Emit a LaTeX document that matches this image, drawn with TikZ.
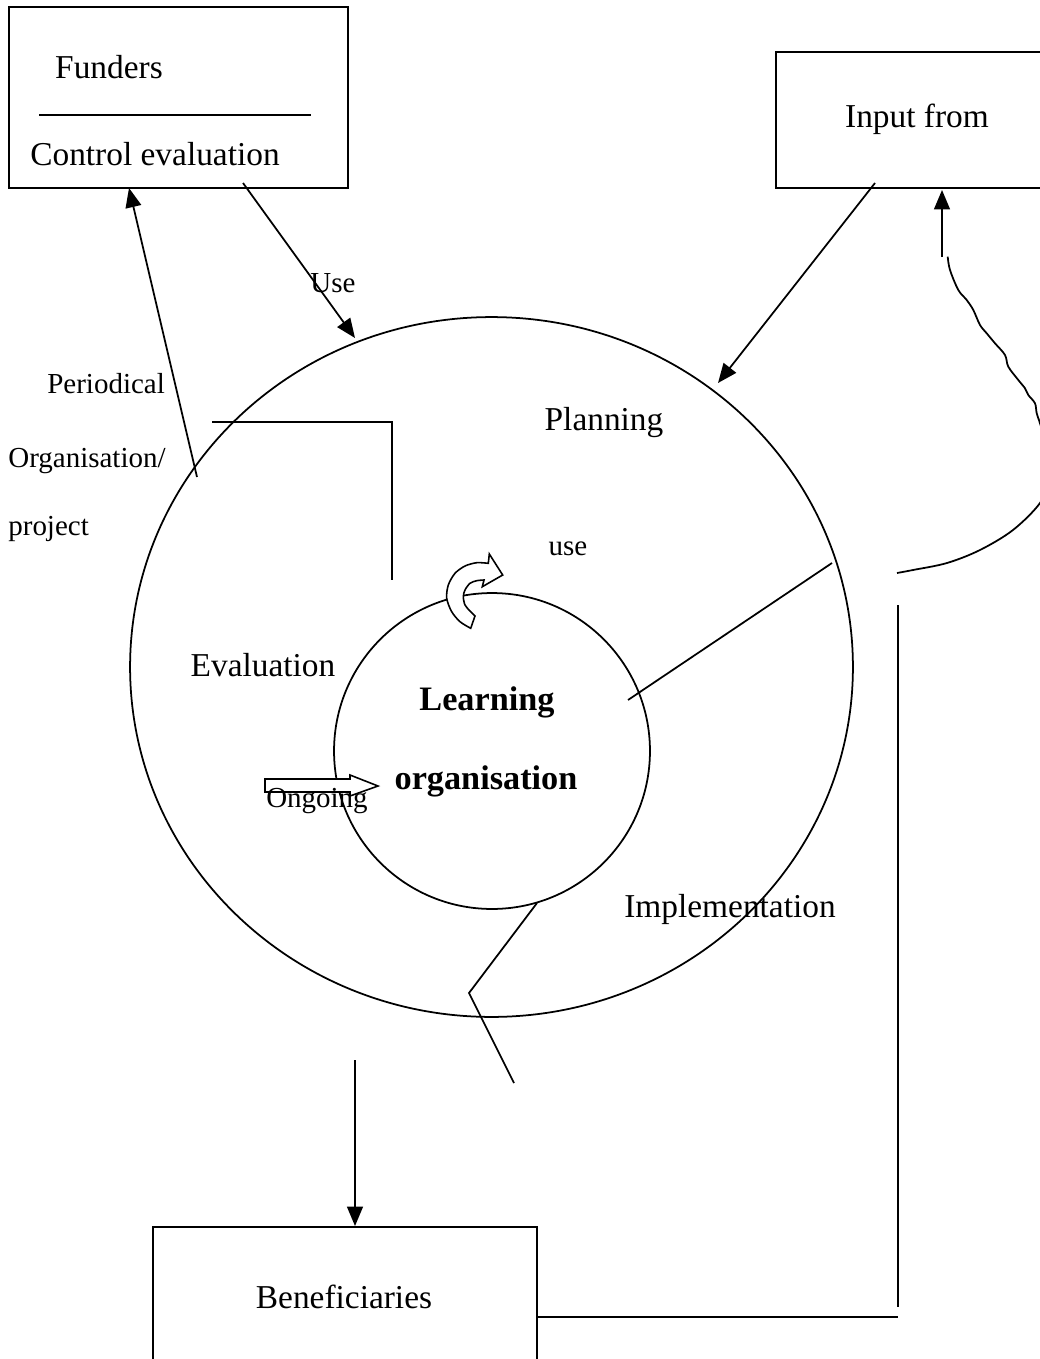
\documentclass[tikz,border=0pt]{standalone}
\usepackage{fontspec}
\setmainfont{Liberation Serif}
\usetikzlibrary{arrows.meta, shapes.geometric, positioning, fit, calc}

\begin{document}
\begin{tikzpicture}[x=0.02cm, y=-0.02cm,
	ln/.style={line width=1pt},
	fl/.style={ln, -{Triangle[length=11pt, width=9pt]}},
	bx/.style={draw, line width=1pt, inner sep=0pt},
	lab/.style={font=\fontsize{19}{22}\selectfont, anchor=base, inner sep=0pt},
	sml/.style={font=\fontsize{16.5}{20}\selectfont, anchor=base, inner sep=0pt},
	bld/.style={font=\fontsize{19.5}{23}\selectfont\bfseries, anchor=base, inner sep=0pt}]

	\useasboundingbox (0,0) rectangle (1040,1359);
	\clip (0,0) rectangle (1040,1359);

	% ---------- boxes ----------
	\node[bx, fit={(9,7) (348,188)}] (fund) {};
	\node[bx, fit={(776,52) (1070,188)}] (inpbox) {};
	\node[bx, fit={(153,1227) (537,1390)}] (benebox) {};
	\draw[ln] (39,115) -- (311,115);

	% ---------- circles ----------
	\node[ln, draw, ellipse, minimum width=14.46cm, minimum height=14cm, inner sep=0pt] (outer) at (491.5,667) {};
	\node[ln, draw, circle, minimum size=6.32cm, inner sep=0pt] (inner) at (492,751) {};
	\draw[ln] (212,422) -- (392,422) -- (392,580);
	\draw[ln] (628,700) -- (832,563);
	\draw[ln] (537,903) -- (469,993) -- (514,1083);

	% ---------- arrows ----------
	\coordinate (useS) at (243,183);  \coordinate (useE) at (355,338);
	\coordinate (perS) at (197,477);  \coordinate (perE) at (129,188);
	\coordinate (inpS) at (875,183);  \coordinate (inpE) at (718,383);
	\coordinate (upS)  at (942,257);  \coordinate (upE)  at (942,190);
	\coordinate (dnS)  at (355,1060); \coordinate (dnE)  at (355,1226);
	\foreach \a in {use,per,inp,up,dn}{
		\draw[fl] (\a S) -- (\a E);
	}

	% wavy feedback line
	\draw[ln] plot[smooth, tension=0.55] coordinates {(947.7,256.7) (950,270) (958.3,290) (966.7,300)
		(973.3,310) (980,325) (986.7,333.3) (995,343.3) (1005,355) (1008.3,366.7) (1018.3,380)
		(1025,388.3) (1028.3,395) (1035,403.3) (1036.7,413.3) (1040,423.3) (1048,450) (1050,478)
		(1040,503) (1013,530) (980,550) (947,563) (913,570) (897,573)};
	\draw[ln] (898,605) -- (898,1307);
	\draw[ln] (537,1317) -- (898,1317);

	% curved use arrow
	\draw[line width=0.9pt, fill=white] plot[smooth] coordinates {(470.7,628.3) (460,621.7) (451.7,611.7)
		(446.7,598.3) (448.3,585) (455,573.3) (465,566) (476.7,562.7) (488.3,563.3)}
		-- (489.3,554) -- (502.7,575) -- (482.3,586.7) -- (484,580)
		-- plot[smooth] coordinates {(484,580) (476.7,580.7) (470,583.3) (465,590) (463.3,596.7)
		(465,605) (470,611) (475,616)} -- cycle;

	% hollow ongoing arrow
	\draw[line width=0.9pt, fill=white] (265,779) -- (350,779) -- (350,775) -- (378,786)
		-- (350,796) -- (350,792) -- (265,792) -- cycle;

	% ---------- labels ----------
	\node[lab] (funT) at (109,78) {Funders};
	\node[lab] (ctrl) at (155,165) {Control evaluation};
	\node[lab] (inpT) at (917,127) {Input from};
	\node[sml] (useT) at (333,292) {Use};
	\node[sml, anchor=base west] (peri) at (47,393) {Periodical};
	\node[sml, anchor=base west] (orgp) at (8,467) {Organisation/};
	\node[sml, anchor=base west] (proj) at (8,535) {project};
	\node[lab] (plan) at (604,430) {Planning};
	\node[sml] (useL) at (568,555) {use};
	\node[lab] (eval) at (263,676) {Evaluation};
	\node[bld] (learn) at (487,710) {Learning};
	\node[bld] (orgn) at (486,789) {organisation};
	\node[sml] (ongo) at (317,807) {Ongoing};
	\node[lab] (impl) at (730,917) {Implementation};
	\node[lab] (bene) at (344,1308) {Beneficiaries};
\end{tikzpicture}
\end{document}
